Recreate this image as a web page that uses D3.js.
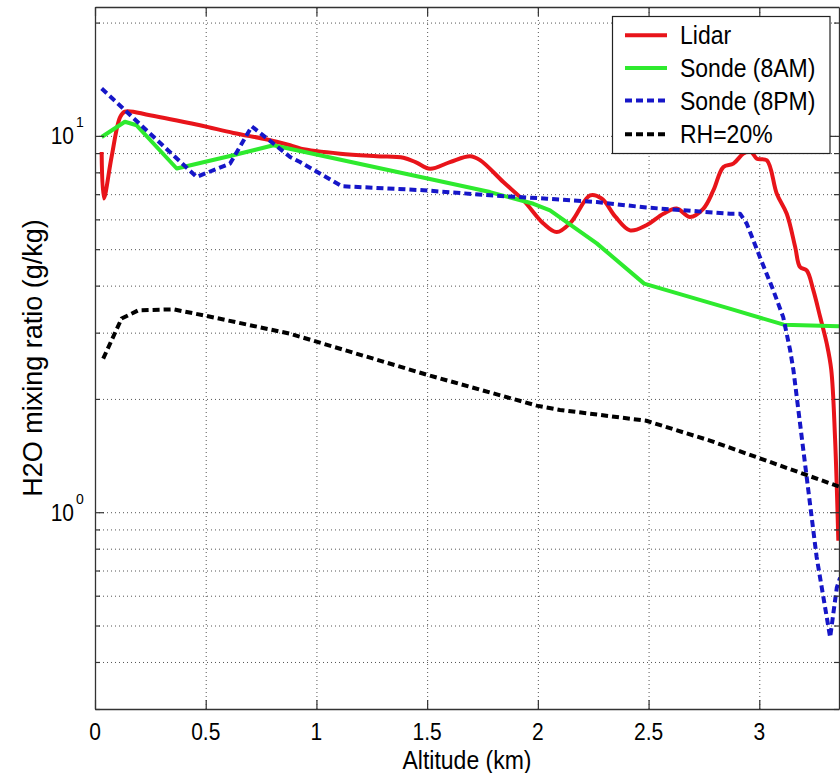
<!DOCTYPE html>
<html>
<head>
<meta charset="utf-8">
<script src="https://cdn.jsdelivr.net/npm/d3@7"></script>
<style>
  html, body { margin: 0; padding: 0; background: #fff; }
  svg { display: block; }
  text { font-family: "Liberation Sans", Arial, Helvetica, sans-serif; fill: #000; }
</style>
</head>
<body>
<svg id="chart" width="840" height="773"></svg>
<script>
// Water vapour mixing ratio versus altitude: lidar retrieval, two radiosondes and the RH=20% reference.

// Lidar profile (altitude km, mixing ratio g/kg)
const lidarAlt = [0.03, 0.04, 0.075, 0.113, 0.135, 0.248, 0.474, 0.625, 0.777, 0.881, 0.93, 1.107, 1.272, 1.393, 1.45, 1.513, 1.603, 1.694, 1.739, 1.844, 1.935, 2.025, 2.085, 2.15, 2.236, 2.289, 2.35, 2.416, 2.49, 2.567, 2.627, 2.687, 2.748, 2.793, 2.838, 2.883, 2.928, 2.96, 2.989, 3.034, 3.079, 3.124, 3.162, 3.184, 3.214, 3.244, 3.275, 3.305, 3.325, 3.342, 3.357];
const lidarVal = [9.06, 6.82, 8.8, 11.2, 11.6, 11.35, 10.67, 10.18, 9.78, 9.44, 9.25, 8.97, 8.83, 8.75, 8.5, 8.18, 8.52, 8.83, 8.62, 7.54, 6.74, 5.85, 5.55, 5.9, 6.95, 6.81, 6.1, 5.61, 5.79, 6.21, 6.41, 6.09, 6.41, 7.17, 8.27, 8.44, 8.97, 9.1, 8.7, 8.61, 7.02, 6.21, 5.07, 4.48, 4.39, 3.89, 3.30, 2.80, 2.39, 1.58, 0.84];

// Radiosonde, morning launch
const sondeAmAlt = [0.03, 0.135, 0.188, 0.369, 0.624, 0.806, 1.784, 1.98, 2.055, 2.266, 2.48, 2.87, 3.11, 3.36];
const sondeAmVal = [9.93, 10.9, 10.67, 8.19, 8.88, 9.44, 7.09, 6.6, 6.34, 5.18, 4.05, 3.47, 3.15, 3.12];

// Radiosonde, evening launch
const sondePmAlt = [0.03, 0.459, 0.61, 0.708, 0.881, 0.926, 1.114, 1.483, 1.784, 2.04, 2.266, 2.49, 2.868, 2.913, 2.943, 3.003, 3.063, 3.108, 3.139, 3.154, 3.214, 3.259, 3.32, 3.35, 3.365];
const sondePmVal = [13.36, 7.78, 8.44, 10.6, 8.79, 8.52, 7.35, 7.17, 6.95, 6.81, 6.67, 6.45, 6.21, 6.21, 5.85, 4.76, 3.89, 3.30, 2.70, 2.39, 1.24, 0.76, 0.465, 0.63, 0.67];

// Mixing ratio corresponding to 20% relative humidity
const rhAlt = [0.037, 0.12, 0.196, 0.354, 0.497, 0.881, 1.498, 1.995, 2.1, 2.49, 2.657, 2.777, 3.003, 3.36];
const rhVal = [2.56, 3.27, 3.44, 3.46, 3.33, 2.98, 2.32, 1.92, 1.87, 1.75, 1.63, 1.55, 1.39, 1.17];

// Axis ticks
const xTicks = [0, 0.5, 1, 1.5, 2, 2.5, 3];
const xTickLabels = ["0", "0.5", "1", "1.5", "2", "2.5", "3"];
const yMajor = [1, 10];
const yMajorExp = ["0", "1"];
const yMinor = [0.3, 0.4, 0.5, 0.6, 0.7, 0.8, 0.9, 2, 3, 4, 5, 6, 7, 8, 9, 20];

const seriesNames = ["Lidar", "Sonde (8AM)", "Sonde (8PM)", "RH=20%"];
const seriesColors = ["#e8141a", "#2eea2e", "#1616c8", "#000000"];
const seriesDash = [null, null, "7,4", "7,4"];

const xLabel = "Altitude (km)";
const yLabel = "H2O mixing ratio (g/kg)";

// ---- layout ----
const svg = d3.select("#chart");
const box = { left: 95, right: 839, top: 7, bottom: 709 };
const pw = box.right - box.left, ph = box.bottom - box.top;

const x = d3.scaleLinear().domain([0, 3.36]).range([box.left, box.right]);
const y = d3.scaleLog().domain([0.3, 22]).range([box.bottom, box.top]);

const yAll = yMajor.concat(yMinor);

// dotted grid
const grid = svg.append("g").attr("class", "grid");
grid.append("g")
  .attr("transform", `translate(0,${box.bottom})`)
  .call(d3.axisBottom(x).tickValues(xTicks.filter(v => v > 0)).tickSize(-ph).tickFormat(""))
  .call(g => g.select(".domain").remove());
grid.append("g")
  .attr("transform", `translate(${box.left},0)`)
  .call(d3.axisLeft(y).tickValues(yAll.filter(v => v > 0.3)).tickSize(-pw).tickFormat(""))
  .call(g => g.select(".domain").remove());
grid.selectAll("line")
  .attr("stroke", "#555")
  .attr("stroke-width", 1)
  .attr("stroke-dasharray", "1,3");

// data lines
svg.append("defs").append("clipPath").attr("id", "plotClip")
  .append("rect").attr("x", box.left).attr("y", box.top).attr("width", pw).attr("height", ph);

const series = [
  { alt: lidarAlt, val: lidarVal, curve: d3.curveCatmullRom.alpha(0.5) },
  { alt: sondeAmAlt, val: sondeAmVal, curve: d3.curveLinear },
  { alt: sondePmAlt, val: sondePmVal, curve: d3.curveLinear },
  { alt: rhAlt, val: rhVal, curve: d3.curveLinear }
];

const plotG = svg.append("g").attr("clip-path", "url(#plotClip)");
series.forEach((s, i) => {
  const pts = s.alt.map((a, k) => [a, s.val[k]]);
  const line = d3.line().x(d => x(d[0])).y(d => y(d[1])).curve(s.curve);
  plotG.append("path")
    .datum(pts)
    .attr("d", line)
    .attr("fill", "none")
    .attr("stroke", seriesColors[i])
    .attr("stroke-width", 4)
    .attr("stroke-linejoin", "round")
    .attr("stroke-dasharray", seriesDash[i]);
});

// axes box with inward ticks on all four sides
const axisColor = "#333";
const axG = svg.append("g").attr("class", "axes");
axG.append("g").attr("transform", `translate(0,${box.bottom})`)
  .call(d3.axisBottom(x).tickValues(xTicks).tickSize(-9).tickSizeOuter(0).tickFormat(""));
axG.append("g").attr("transform", `translate(0,${box.top})`)
  .call(d3.axisTop(x).tickValues(xTicks).tickSize(-9).tickSizeOuter(0).tickFormat(""));
const leftAx = axG.append("g").attr("transform", `translate(${box.left},0)`)
  .call(d3.axisLeft(y).tickValues(yAll).tickSize(-9).tickSizeOuter(0).tickFormat(""));
const rightAx = axG.append("g").attr("transform", `translate(${box.right},0)`)
  .call(d3.axisRight(y).tickValues(yAll).tickSize(-9).tickSizeOuter(0).tickFormat(""));
// minor ticks are shorter
leftAx.selectAll(".tick").filter(d => !yMajor.includes(d)).select("line").attr("x2", 5);
rightAx.selectAll(".tick").filter(d => !yMajor.includes(d)).select("line").attr("x2", -5);
axG.selectAll(".domain").attr("stroke", axisColor).attr("stroke-width", 1.3);
axG.selectAll(".tick line").attr("stroke", axisColor).attr("stroke-width", 1.2);

// tick labels
const tickFont = 21, stretch = 1.1;
xTicks.forEach((v, i) => {
  svg.append("text")
    .attr("transform", `translate(${x(v)},740) scale(1,${stretch})`)
    .attr("text-anchor", "middle")
    .attr("font-size", tickFont)
    .text(xTickLabels[i]);
});
yMajor.forEach((v, i) => {
  const yy = y(v);
  svg.append("text")
    .attr("transform", `translate(74,${yy + 8.3}) scale(1,${stretch})`)
    .attr("text-anchor", "end")
    .attr("font-size", tickFont)
    .text("10");
  svg.append("text")
    .attr("transform", `translate(76,${yy - 8.5}) scale(1,${stretch})`)
    .attr("text-anchor", "start")
    .attr("font-size", 14)
    .text(yMajorExp[i]);
});

// axis titles
svg.append("text")
  .attr("transform", `translate(${(box.left + box.right) / 2},769) scale(1,${stretch})`)
  .attr("text-anchor", "middle")
  .attr("font-size", 23)
  .text(xLabel);
svg.append("text")
  .attr("transform", `translate(42,${(box.top + box.bottom) / 2}) rotate(-90)`)
  .attr("text-anchor", "middle")
  .attr("font-size", 27)
  .text(yLabel);

// legend
const leg = svg.append("g").attr("class", "legend");
leg.append("rect")
  .attr("x", 612.5).attr("y", 16.5).attr("width", 217.5).attr("height", 137)
  .attr("fill", "#fff").attr("stroke", "#222").attr("stroke-width", 1.2);
const rowY = [35.2, 67.9, 100.6, 134.3];
seriesNames.forEach((name, i) => {
  leg.append("line")
    .attr("x1", 625).attr("x2", 667)
    .attr("y1", rowY[i]).attr("y2", rowY[i])
    .attr("stroke", seriesColors[i])
    .attr("stroke-width", 4)
    .attr("stroke-dasharray", seriesDash[i]);
  leg.append("text")
    .attr("transform", `translate(680,${rowY[i] + 9}) scale(1,${stretch})`)
    .attr("font-size", 23)
    .text(name);
});
</script>
</body>
</html>
